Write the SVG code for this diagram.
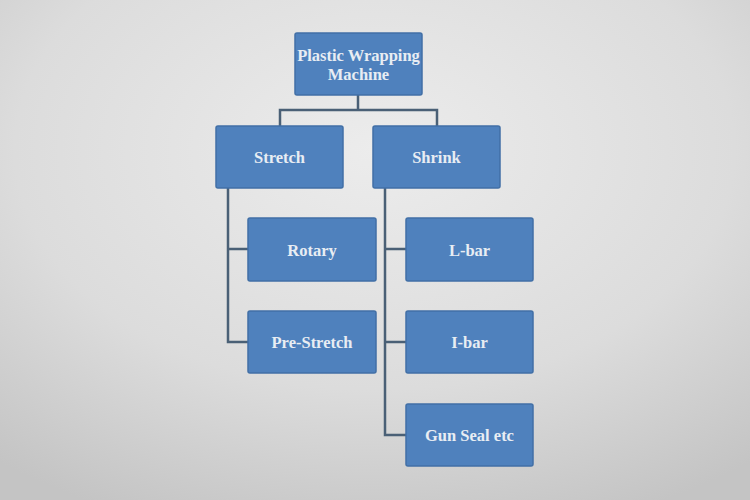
<svg xmlns="http://www.w3.org/2000/svg" width="750" height="500" viewBox="0 0 750 500">
<defs>
<radialGradient id="bg" cx="0.5" cy="0.3" r="0.8">
<stop offset="0" stop-color="#ececec"/>
<stop offset="0.6" stop-color="#dcdcdc"/>
<stop offset="1" stop-color="#c4c4c4"/>
</radialGradient>
</defs>
<style>
.box{fill:#4f81bd;stroke:#416fa6;stroke-width:1.5}
.lbl{font-family:"Liberation Serif",serif;font-weight:bold;font-size:16.5px;fill:#e8edf3;text-anchor:middle;dominant-baseline:central}
.ln{fill:none;stroke:#4a6076;stroke-width:2.5}
</style>
<rect width="750" height="500" fill="url(#bg)"/>
<g id="connectors">
<path class="ln" d="M358 95 V110 M280 126 V110 H437 V126"/>
<path class="ln" d="M228 188 V342 H248 M228 249 H248"/>
<path class="ln" d="M385 188 V435 H406 M385 249 H406 M385 342 H406"/>
</g>
<g id="root"><rect class="box" x="295" y="33" width="127" height="62" rx="2"/><text class="lbl" x="358.5" y="55">Plastic Wrapping</text><text class="lbl" x="358.5" y="74">Machine</text></g>
<g id="stretch"><rect class="box" x="216" y="126" width="127" height="62" rx="2"/><text class="lbl" x="279.5" y="157">Stretch</text></g>
<g id="shrink"><rect class="box" x="373" y="126" width="127" height="62" rx="2"/><text class="lbl" x="436.5" y="157">Shrink</text></g>
<g id="rotary"><rect class="box" x="248" y="218" width="128" height="63" rx="2"/><text class="lbl" x="312" y="250">Rotary</text></g>
<g id="prestretch"><rect class="box" x="248" y="311" width="128" height="62" rx="2"/><text class="lbl" x="312" y="342">Pre-Stretch</text></g>
<g id="lbar"><rect class="box" x="406" y="218" width="127" height="63" rx="2"/><text class="lbl" x="469.5" y="250">L-bar</text></g>
<g id="ibar"><rect class="box" x="406" y="311" width="127" height="62" rx="2"/><text class="lbl" x="469.5" y="342">I-bar</text></g>
<g id="gunseal"><rect class="box" x="406" y="404" width="127" height="62" rx="2"/><text class="lbl" x="469.5" y="435">Gun Seal etc</text></g>
</svg>
